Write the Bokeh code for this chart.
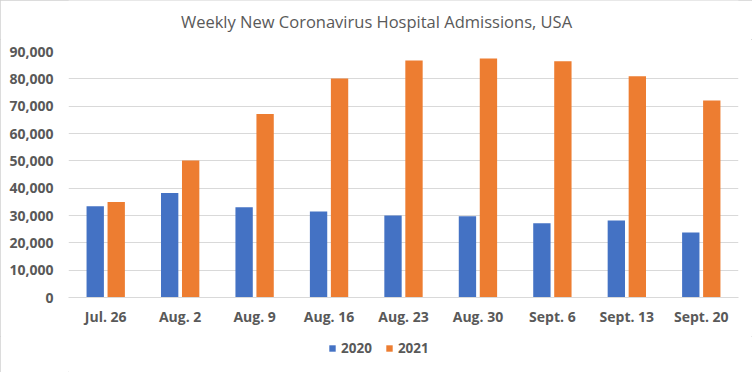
from bokeh.plotting import figure
from bokeh.layouts import column
from bokeh.core.properties import value
from bokeh.models import (FactorRange, Range1d, NumeralTickFormatter, SingleIntervalTicker,
                          Legend, LegendItem, ColumnDataSource)
from bokeh.transform import dodge
from bokeh.embed import file_html
from bokeh.resources import INLINE

chart_title = "Weekly New Coronavirus Hospital Admissions, USA"
weeks = ["Jul. 26", "Aug. 2", "Aug. 9", "Aug. 16", "Aug. 23", "Aug. 30",
         "Sept. 6", "Sept. 13", "Sept. 20"]
admissions_2020 = [33400, 38200, 33000, 31500, 30000, 29700, 27200, 28200, 23800]
admissions_2021 = [34900, 50100, 67100, 80100, 86700, 87400, 86400, 80900, 72100]
series_names = ["2020", "2021"]
colors = ["#4472C4", "#ED7D31"]

src = ColumnDataSource(dict(week=weeks, y2020=admissions_2020, y2021=admissions_2021))

FONT = "Open Sans"
GRAY = "#595959"

# title strip: same horizontal borders as the chart, data units = page pixels
tt = figure(frame_width=670, frame_height=39, x_range=Range1d(68, 738), y_range=Range1d(0, 39),
            x_axis_type=None, y_axis_type=None, output_backend="svg", toolbar_location=None,
            min_border_left=68, min_border_right=14, min_border_top=0, min_border_bottom=0)
tt.outline_line_color = None
tt.background_fill_color = "white"
tt.border_fill_color = "white"
tt.text(x=[376], y=[18], text=[chart_title], text_align="center", text_baseline="middle",
        text_font=value(FONT), text_font_size="16.5px", text_color=GRAY)

p = figure(x_range=FactorRange(*weeks), y_range=Range1d(0, 90000),
           frame_width=670, frame_height=246, output_backend="svg", toolbar_location=None,
           min_border_left=68, min_border_right=14, min_border_top=12, min_border_bottom=39)

r1 = p.vbar(x=dodge("week", -0.141, range=p.x_range), top="y2020", width=0.233,
            source=src, color=colors[0], line_color=None)
r2 = p.vbar(x=dodge("week", 0.141, range=p.x_range), top="y2021", width=0.233,
            source=src, color=colors[1], line_color=None)

p.outline_line_color = None
p.background_fill_color = "white"
p.border_fill_color = "white"

p.yaxis.ticker = SingleIntervalTicker(interval=10000)
p.yaxis.formatter = NumeralTickFormatter(format="0,0")
for ax in (p.xaxis, p.yaxis):
    ax.axis_line_color = None
    ax.major_tick_line_color = None
    ax.minor_tick_line_color = None
    ax.major_tick_out = 0
    ax.minor_tick_out = 0
    ax.major_label_text_font = FONT
    ax.major_label_text_font_size = "14px"
    ax.major_label_text_font_style = "bold"
    ax.major_label_text_color = GRAY
p.xaxis.axis_line_color = "#D9D9D9"
p.xaxis.major_label_standoff = 9
p.yaxis.major_label_standoff = 15

p.xgrid.grid_line_color = None
p.ygrid.grid_line_color = "#D9D9D9"

# legend strip below the chart
lg = figure(frame_width=752, frame_height=36, x_range=Range1d(0, 1), y_range=Range1d(0, 1),
            x_axis_type=None, y_axis_type=None, output_backend="svg", toolbar_location=None,
            min_border=0)
lg.outline_line_color = None
lg.background_fill_color = "white"
lg.border_fill_color = "white"
d1 = lg.vbar(x=[-5], top=[-5], width=0.1, color=colors[0], line_color=None)
d2 = lg.vbar(x=[-5], top=[-5], width=0.1, color=colors[1], line_color=None)
legend = Legend(items=[LegendItem(label=series_names[0], renderers=[d1]),
                       LegendItem(label=series_names[1], renderers=[d2])],
                orientation="horizontal", location=(328, 15),
                glyph_width=8, glyph_height=8, label_standoff=5, spacing=13,
                label_text_font=FONT, label_text_font_size="13.5px",
                label_text_font_style="bold", label_text_color=GRAY,
                border_line_color=None, background_fill_alpha=0, margin=0, padding=2)
lg.add_layout(legend, "center")

layout = column(tt, p, lg, spacing=0)
layout.styles = {"outline": "1px solid #D0D0D0", "outline-offset": "-1px"}

open("out.html", "w").write(file_html(layout, INLINE))
